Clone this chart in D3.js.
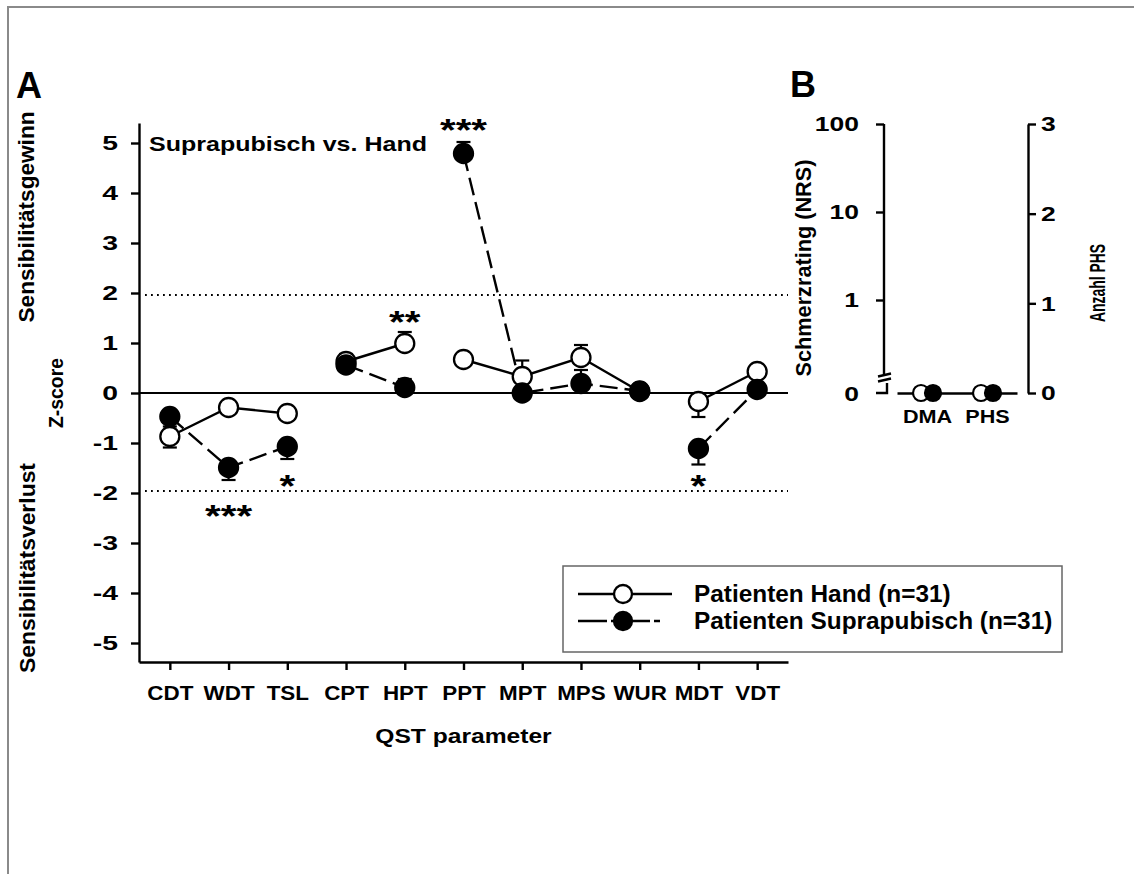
<!DOCTYPE html>
<html>
<head>
<meta charset="utf-8">
<script src="https://cdn.jsdelivr.net/npm/d3@7/dist/d3.min.js"></script>
<style>
  body { margin: 0; background: #fff; }
  text { font-family: "Liberation Sans", Arial, sans-serif; font-weight: bold; fill: #000; }
</style>
</head>
<body>
<svg id="chart" width="1134" height="874"></svg>
<script>
// ---- data (panel A: QST z-scores, mean +/- SEM) ----
const params = ["CDT", "WDT", "TSL", "CPT", "HPT", "PPT", "MPT", "MPS", "WUR", "MDT", "VDT"];
const groups = [[0, 1, 2], [3, 4], [5, 6, 7, 8], [9, 10]];
const handMean = [-0.87, -0.29, -0.41, 0.63, 0.99, 0.67, 0.33, 0.71, 0.03, -0.17, 0.43];
const handErr = [0.22, 0.08, 0.08, 0.15, 0.23, 0.12, 0.32, 0.25, 0.08, 0.31, 0.08];
const supraMean = [-0.47, -1.49, -1.07, 0.56, 0.11, 4.79, 0.0, 0.19, 0.04, -1.11, 0.07];
const supraErr = [0.2, 0.25, 0.25, 0.1, 0.17, 0.23, 0.08, 0.27, 0.08, 0.32, 0.08];
const zTicks = [-5, -4, -3, -2, -1, 0, 1, 2, 3, 4, 5];
const refLines = [1.96, -1.96];
const stars = [
  { p: "WDT", text: "***", z: -2.34 },
  { p: "TSL", text: "*", z: -1.74 },
  { p: "HPT", text: "**", z: 1.54 },
  { p: "PPT", text: "***", z: 5.38 },
  { p: "MDT", text: "*", z: -1.74 }
];

// ---- data (panel B) ----
const bCats = ["DMA", "PHS"];
const bHand = [0, 0];
const bSupra = [0, 0];
const nrsTicks = [1, 10, 100];
const phsTicks = [0, 1, 2, 3];

const svg = d3.select("#chart");

// stretch text horizontally to match the wide glyphs of the original
function stretch(sel, sx) {
  sel.each(function () {
    const w = this.getComputedTextLength();
    d3.select(this).attr("textLength", w * sx).attr("lengthAdjust", "spacingAndGlyphs");
  });
}
const plain = d => String(d); // hyphen minus like the original

// frame
svg.append("path")
  .attr("d", "M8,874V7H1134")
  .attr("fill", "none")
  .attr("stroke", "#8a8a8a")
  .attr("stroke-width", 2);

// ================= panel A =================
const x = d3.scalePoint().domain(params).range([139, 788]).padding(0.525);
const y = d3.scaleLinear().domain([-5.38, 5.4]).range([662, 123]);

const gA = svg.append("g");

// reference lines (+/-1.96) and zero line
gA.selectAll(".ref")
  .data(refLines)
  .join("line")
  .attr("x1", 145).attr("x2", x.range()[1])
  .attr("y1", d => y(d)).attr("y2", d => y(d))
  .attr("stroke", "#000")
  .attr("stroke-width", 1.8)
  .attr("stroke-dasharray", "1.8,4.2");

gA.append("line")
  .attr("x1", x.range()[0]).attr("x2", x.range()[1])
  .attr("y1", y(0)).attr("y2", y(0))
  .attr("stroke", "#000")
  .attr("stroke-width", 2.2);

// axes
const yAxis = gA.append("g")
  .attr("transform", `translate(${x.range()[0]},0)`)
  .call(d3.axisLeft(y).tickValues(zTicks).tickFormat(plain).tickSize(8).tickSizeOuter(0).tickPadding(13));
yAxis.selectAll("text").attr("font-size", 21).call(stretch, 1.35);

const xAxis = gA.append("g")
  .attr("transform", `translate(0,${y.range()[0]})`)
  .call(d3.axisBottom(x).tickSize(8).tickSizeOuter(0).tickPadding(16));
xAxis.selectAll("text").attr("font-size", 20).call(stretch, 1.12);

gA.selectAll(".domain, .tick line").attr("stroke", "#000").attr("stroke-width", 2.4);

// series lines
const line = (vals) => d3.line().x(i => x(params[i])).y(i => y(vals[i]));

gA.selectAll(".handLine")
  .data(groups)
  .join("path")
  .attr("d", g => line(handMean)(g))
  .attr("fill", "none")
  .attr("stroke", "#000")
  .attr("stroke-width", 2.4);

gA.selectAll(".supraLine")
  .data(groups)
  .join("path")
  .attr("d", g => line(supraMean)(g))
  .attr("fill", "none")
  .attr("stroke", "#000")
  .attr("stroke-width", 2.4)
  .attr("stroke-dasharray", "18,7");

// error bars (drawn away from zero)
function errBars(mean, err) {
  const data = params.map((p, i) => ({ p, m: mean[i], e: mean[i] >= 0 ? err[i] : -err[i] }));
  const g = gA.append("g").attr("stroke", "#000").attr("stroke-width", 2.2);
  g.selectAll(".v").data(data).join("line")
    .attr("x1", d => x(d.p)).attr("x2", d => x(d.p))
    .attr("y1", d => y(d.m)).attr("y2", d => y(d.m + d.e));
  g.selectAll(".c").data(data).join("line")
    .attr("x1", d => x(d.p) - 7).attr("x2", d => x(d.p) + 7)
    .attr("y1", d => y(d.m + d.e)).attr("y2", d => y(d.m + d.e));
}
errBars(handMean, handErr);
errBars(supraMean, supraErr);

// markers
gA.selectAll(".handDot")
  .data(handMean)
  .join("circle")
  .attr("cx", (d, i) => x(params[i]))
  .attr("cy", d => y(d))
  .attr("r", 9.5)
  .attr("fill", "#fff")
  .attr("stroke", "#000")
  .attr("stroke-width", 2.3);

gA.selectAll(".supraDot")
  .data(supraMean)
  .join("circle")
  .attr("cx", (d, i) => x(params[i]))
  .attr("cy", d => y(d))
  .attr("r", 9.5)
  .attr("fill", "#000")
  .attr("stroke", "#000")
  .attr("stroke-width", 2.3);

// significance stars
gA.selectAll(".star")
  .data(stars)
  .join("text")
  .attr("x", d => x(d.p))
  .attr("y", d => y(d.z) + 17)
  .attr("text-anchor", "middle")
  .attr("font-size", 31)
  .text(d => d.text)
  .call(stretch, 1.3);

// titles / labels
gA.append("text").attr("x", 16).attr("y", 98).attr("font-size", 36).text("A");

gA.append("text")
  .attr("x", 149).attr("y", 151)
  .attr("font-size", 20.5)
  .text("Suprapubisch vs. Hand")
  .call(stretch, 1.22);

function vText(g, cx, cy, str, fs, len) {
  g.append("text")
    .attr("transform", `translate(${cx},${cy}) rotate(-90)`)
    .attr("text-anchor", "middle")
    .attr("font-size", fs)
    .attr("textLength", len)
    .attr("lengthAdjust", "spacingAndGlyphs")
    .text(str);
}
vText(gA, 34, 217, "Sensibilitätsgewinn", 22, 211);
vText(gA, 35, 568, "Sensibilitätsverlust", 22, 210);
vText(gA, 63, 393, "Z-score", 19.5, 70);

gA.append("text")
  .attr("x", (x.range()[0] + x.range()[1]) / 2)
  .attr("y", 743)
  .attr("text-anchor", "middle")
  .attr("font-size", 20)
  .text("QST parameter")
  .call(stretch, 1.23);

// legend
const leg = gA.append("g");
leg.append("rect")
  .attr("x", 563).attr("y", 566)
  .attr("width", 499).attr("height", 86)
  .attr("fill", "#fff")
  .attr("stroke", "#666")
  .attr("stroke-width", 1.5);

const legItems = [
  { label: "Patienten Hand (n=31)", fill: "#fff", dash: null, end: 672 },
  { label: "Patienten Suprapubisch (n=31)", fill: "#000", dash: "29,4,6,4", end: 660 }
];
legItems.forEach((d, i) => {
  const ly = 594 + i * 27;
  leg.append("line")
    .attr("x1", 578).attr("x2", d.end)
    .attr("y1", ly).attr("y2", ly)
    .attr("stroke", "#000").attr("stroke-width", 2.4)
    .attr("stroke-dasharray", d.dash);
  leg.append("circle")
    .attr("cx", 623).attr("cy", ly).attr("r", 9)
    .attr("fill", d.fill).attr("stroke", "#000").attr("stroke-width", 2.3);
  leg.append("text")
    .attr("x", 694).attr("y", ly + 8)
    .attr("font-size", 23)
    .text(d.label)
    .call(stretch, 1.06);
});

// ================= panel B =================
const gB = svg.append("g");
const xB = d3.scalePoint().domain(bCats).range([897, 1017]).padding(0.5);
const yNrs = d3.scaleLog().domain([1, 100]).range([300, 124]);
const yPhs = d3.scaleLinear().domain([0, 3]).range([393, 124]);
const leftX = 884, rightX = 1028;

// left (log) axis with break
const lAxis = gB.append("g")
  .attr("transform", `translate(${leftX},0)`)
  .call(d3.axisLeft(yNrs).tickValues(nrsTicks).tickFormat(d3.format("d")).tickSize(8).tickPadding(17));
lAxis.select(".domain").remove();
lAxis.selectAll("text").attr("font-size", 21).call(stretch, 1.26);

const brk = yPhs(0) - 18;
gB.append("line")
  .attr("x1", leftX).attr("x2", leftX)
  .attr("y1", yNrs(100)).attr("y2", brk);
gB.selectAll(".brk")
  .data([0, 5])
  .join("line")
  .attr("x1", leftX - 6).attr("x2", leftX + 7)
  .attr("y1", d => brk + d + 1.5).attr("y2", d => brk + d - 1.5);
gB.append("path")
  .attr("d", `M${leftX + 3},${brk + 8}V${yPhs(0)}H${leftX - 8}`)
  .attr("fill", "none");
gB.append("text")
  .attr("x", leftX - 25).attr("y", yPhs(0) + 7.5)
  .attr("text-anchor", "end")
  .attr("font-size", 21)
  .text("0")
  .call(stretch, 1.26);

// right (linear) axis
const rAxis = gB.append("g")
  .attr("transform", `translate(${rightX},0)`)
  .call(d3.axisRight(yPhs).tickValues(phsTicks).tickFormat(d3.format("d")).tickSize(8).tickSizeOuter(0).tickPadding(5));
rAxis.selectAll("text").attr("font-size", 21).call(stretch, 1.26);

// bottom line with category labels
const bAxis = gB.append("g")
  .attr("transform", `translate(0,${yPhs(0)})`)
  .call(d3.axisBottom(xB).tickSize(0).tickPadding(17));
bAxis.selectAll("text").attr("font-size", 18).call(stretch, 1.2);

gB.selectAll("line, path, .domain, .tick line")
  .attr("stroke", "#000").attr("stroke-width", 2.4);

gB.selectAll(".bHand")
  .data(bHand)
  .join("circle")
  .attr("cx", (d, i) => xB(bCats[i]) - 6)
  .attr("cy", d => yPhs(d))
  .attr("r", 8)
  .attr("fill", "#fff").attr("stroke", "#000").attr("stroke-width", 2.2);

gB.selectAll(".bSupra")
  .data(bSupra)
  .join("circle")
  .attr("cx", (d, i) => xB(bCats[i]) + 6)
  .attr("cy", d => yPhs(d))
  .attr("r", 8)
  .attr("fill", "#000").attr("stroke", "#000").attr("stroke-width", 2.2);

gB.append("text").attr("x", 790).attr("y", 97).attr("font-size", 36).text("B");
vText(gB, 811, 268, "Schmerzrating (NRS)", 22, 217);
vText(gB, 1105, 283, "Anzahl PHS", 22, 78);
</script>
</body>
</html>
